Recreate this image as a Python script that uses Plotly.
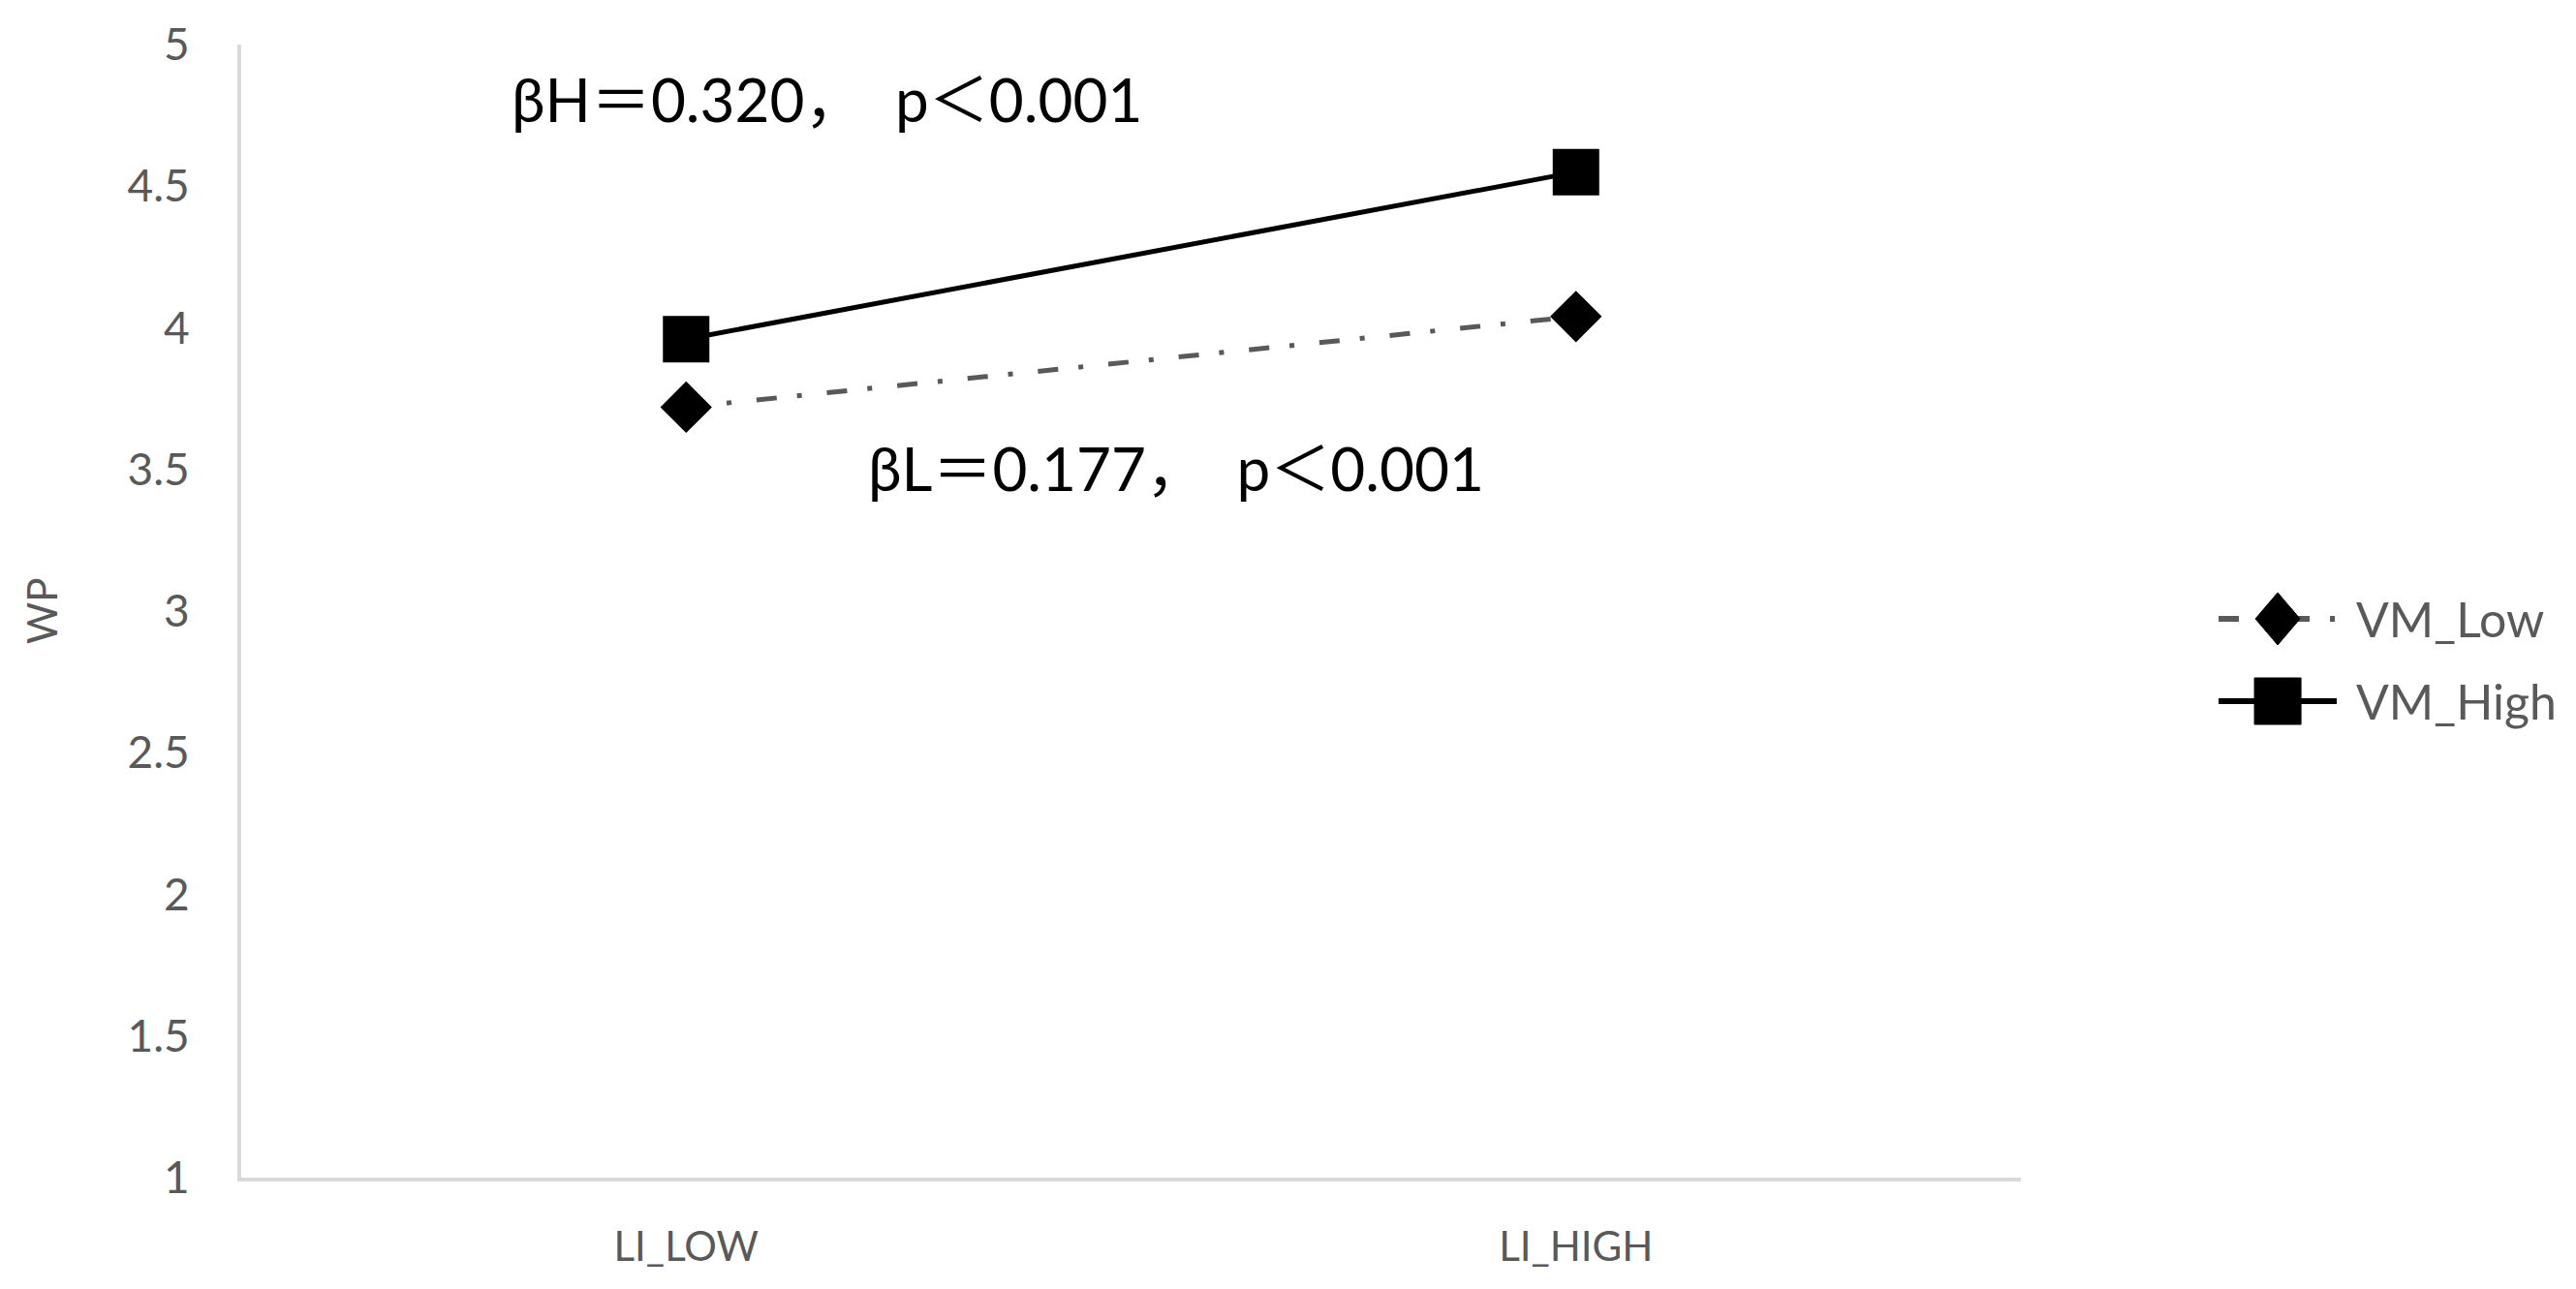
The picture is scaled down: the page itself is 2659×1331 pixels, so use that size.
import plotly.graph_objects as go

# data
categories = ["LI_LOW", "LI_HIGH"]
vm_low = [3.72, 4.04]
vm_high = [3.96, 4.55]
y_ticks = [1, 1.5, 2, 2.5, 3, 3.5, 4, 4.5, 5]
note_high = "βH＝0.320，  p＜0.001"
note_low = "βL＝0.177，  p＜0.001"

GRAY_TXT = "#595959"
AXIS_GRAY = "#d9d9d9"
DASHDOT = "21px,21px,5px,26px"
FONT = "Lato, Noto Sans CJK SC, sans-serif"

fig = go.Figure()

fig.add_trace(go.Scatter(
    x=categories, y=vm_low, name="VM_Low", mode="lines+markers",
    line=dict(color=GRAY_TXT, width=5, dash=DASHDOT),
    marker=dict(symbol="diamond", size=41, color="black"),
    showlegend=False,
))
fig.add_trace(go.Scatter(
    x=categories, y=vm_high, name="VM_High", mode="lines+markers",
    line=dict(color="black", width=5),
    marker=dict(symbol="square", size=48, color="black"),
    showlegend=False,
))

# text of the two slopes
fig.add_annotation(x=-0.198, y=4.81, xref="x", yref="y", text=note_high,
                   showarrow=False, xanchor="left", yanchor="middle",
                   font=dict(size=62, color="black", family=FONT))
fig.add_annotation(x=0.202, y=3.506, xref="x", yref="y", text=note_low,
                   showarrow=False, xanchor="left", yanchor="middle",
                   font=dict(size=62, color="black", family=FONT))

# hand-made legend (native legend caps marker size)
legend_rows = [
    ("VM_Low", 0.4932, DASHDOT, GRAY_TXT,
     "M -23 0 L 0 -27 L 23 0 L 0 27 Z"),
    ("VM_High", 0.4205, "solid", "black",
     "M -24 -24 L 24 -24 L 24 24 L -24 24 Z"),
]
sym_x = 1.1443
for label, ypos, dash, lcolor, path in legend_rows:
    fig.add_shape(type="line", xref="paper", yref="paper",
                  xsizemode="pixel", ysizemode="pixel",
                  xanchor=sym_x, yanchor=ypos,
                  x0=-61, x1=61, y0=0, y1=0,
                  line=dict(color=lcolor, width=6, dash=dash))
    fig.add_shape(type="path", xref="paper", yref="paper",
                  xsizemode="pixel", ysizemode="pixel",
                  xanchor=sym_x, yanchor=ypos, path=path,
                  fillcolor="black", line=dict(color="black", width=1))
    fig.add_annotation(x=1.1873, y=ypos, xref="paper", yref="paper",
                       text=label, showarrow=False, xanchor="left",
                       yanchor="middle",
                       font=dict(size=50, color=GRAY_TXT, family=FONT))

fig.update_xaxes(
    type="category", range=[-0.5, 1.5],
    showline=True, linecolor=AXIS_GRAY, linewidth=4,
    showgrid=False, zeroline=False, ticks="",
    ticklabelstandoff=32,
    tickfont=dict(size=42, color=GRAY_TXT, family=FONT),
)
fig.update_yaxes(
    range=[1, 5], tickvals=y_ticks,
    showline=True, linecolor=AXIS_GRAY, linewidth=4,
    showgrid=False, zeroline=False, ticks="",
    ticklabelstandoff=40,
    tickfont=dict(size=46, color=GRAY_TXT, family=FONT),
    title=dict(text="WP", standoff=60,
               font=dict(size=42, color=GRAY_TXT, family=FONT)),
)

# the page adds an 8px body margin, so the figure is shrunk by that much
fig.update_layout(
    width=2643, height=1315,
    margin=dict(l=241, r=565, t=38, b=107, autoexpand=False),
    plot_bgcolor="white", paper_bgcolor="white",
    showlegend=False,
    font=dict(family=FONT),
)

fig.write_html("out.html")
